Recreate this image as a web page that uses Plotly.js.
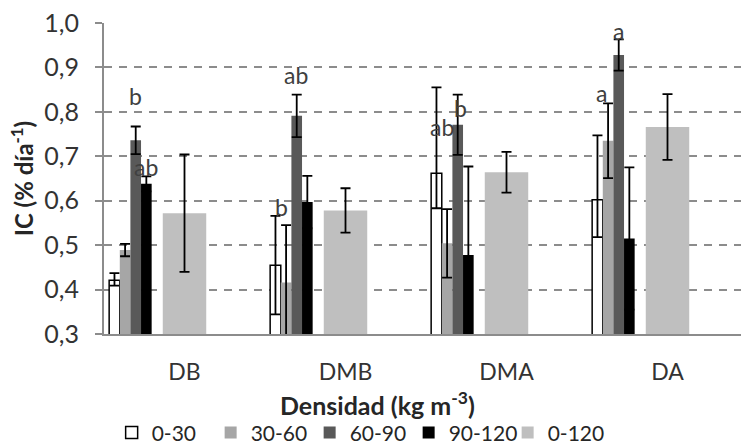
<!DOCTYPE html>
<html>
<head>
<meta charset="utf-8">
<script src="https://cdn.plot.ly/plotly-3.0.1.min.js"></script>
<style>html,body{margin:0;padding:0;background:#fff;}#chart{width:741px;height:446px;}</style>
</head>
<body>
<div id="chart"></div>
<script>
// ---- data ----
const categories = ['DB', 'DMB', 'DMA', 'DA'];
const seriesNames = ['0-30', '30-60', '60-90', '90-120', '0-120'];

const ic_0_30        = [0.421, 0.455, 0.662, 0.602];
const err_0_30_plus  = [0.016, 0.111, 0.193, 0.145];
const err_0_30_minus = [0.012, 0.111, 0.079, 0.084];

const ic_30_60  = [0.489, 0.416, 0.504, 0.735];
const err_30_60 = [0.014, 0.129, 0.077, 0.084];

const ic_60_90  = [0.736, 0.791, 0.771, 0.928];
const err_60_90 = [0.031, 0.048, 0.068, 0.035];

const ic_90_120  = [0.638, 0.597, 0.478, 0.515];
const err_90_120 = [0.017, 0.059, 0.199, 0.160];

const ic_0_120  = [0.572, 0.578, 0.664, 0.766];
const err_0_120 = [0.132, 0.050, 0.046, 0.074];

const letterText = ['ab', 'b', 'b', 'ab', 'ab', 'b', 'a', 'a'];
const letterCat  = ['DB', 'DB', 'DMB', 'DMB', 'DMA', 'DMA', 'DA', 'DA'];

// ---- styling ----
const FONT = 'Lato, "Open Sans", "DejaVu Sans", sans-serif';
const GRID = '#8c8c8c';
const TXT = '#333333';

function errBar(plus, minus) {
  const e = {type: 'data', array: plus, visible: true, color: '#000', thickness: 1.8, width: 5};
  if (minus) { e.symmetric = false; e.arrayminus = minus; }
  return e;
}

const barW = 0.066;
const traces = [
  {name: seriesNames[0], y: ic_0_30, offset: -0.468, marker: {color: '#ffffff', line: {color: '#000', width: 1.5}}, error_y: errBar(err_0_30_plus, err_0_30_minus)},
  {name: seriesNames[1], y: ic_30_60, offset: -0.402, marker: {color: '#a6a6a6', line: {width: 0}}, error_y: errBar(err_30_60)},
  {name: seriesNames[2], y: ic_60_90, offset: -0.336, marker: {color: '#595959', line: {width: 0}}, error_y: errBar(err_60_90)},
  {name: seriesNames[3], y: ic_90_120, offset: -0.270, marker: {color: '#000000', line: {width: 0}}, error_y: errBar(err_90_120)},
  {name: seriesNames[4], y: ic_0_120, offset: -0.135, width: 0.27, marker: {color: '#bfbfbf', line: {width: 0}}, error_y: errBar(err_0_120)}
].map(t => Object.assign({type: 'bar', x: categories, width: barW, hoverinfo: 'skip'}, t));

// letter label placement (offsets from category centre, and heights)
const letterDx = [-0.239, -0.307, -0.400, -0.307, -0.400, -0.285, -0.407, -0.307];
const letterY  = [0.676, 0.836, 0.586, 0.883, 0.766, 0.809, 0.842, 0.982];
const catIndex = c => categories.indexOf(c);
const annotations = letterText.map((t, i) => ({
  text: t, xref: 'x', yref: 'y', x: catIndex(letterCat[i]) + letterDx[i], y: letterY[i],
  showarrow: false, font: {family: FONT, size: 23, color: '#404040'}, xanchor: 'center', yanchor: 'middle'
}));
annotations.push({
  text: '<b>Densidad (kg m<sup>-3</sup>)</b>', xref: 'paper', yref: 'paper', x: 0.430, y: -0.222,
  xanchor: 'center', yanchor: 'middle', showarrow: false, font: {family: FONT, size: 25, color: '#262626'}
});

const layout = {
  width: 741, height: 446,
  margin: {l: 104, r: 0, t: 23, b: 112, pad: 0, autoexpand: false},
  paper_bgcolor: '#fff', plot_bgcolor: '#fff',
  separators: ',.',
  font: {family: FONT, size: 22, color: TXT},
  barmode: 'overlay',
  showlegend: true,
  legend: {orientation: 'h', x: 0.012, y: -0.318, xanchor: 'left', yanchor: 'middle',
           entrywidth: 54, entrywidthmode: 'pixels',
           font: {family: FONT, size: 21, color: '#262626'}, traceorder: 'normal', bgcolor: 'rgba(0,0,0,0)'},
  xaxis: {
    type: 'category', categoryorder: 'array', categoryarray: categories,
    range: [-0.5, 3.4565], showline: true, linecolor: GRID, linewidth: 2,
    ticks: '', showgrid: false, zeroline: false, ticklabelstandoff: 16,
    tickfont: {family: FONT, size: 23, color: TXT}, fixedrange: true, automargin: false
  },
  xaxis2: {
    overlaying: 'x', anchor: 'y', side: 'bottom', range: [0, 2.963], tick0: 0, dtick: 1,
    ticks: 'outside', ticklen: 7, tickwidth: 2, tickcolor: GRID, showticklabels: false,
    showgrid: false, showline: false, zeroline: false
  },
  yaxis: {
    range: [0.3, 1.0], tick0: 0.3, dtick: 0.1, tickformat: '.1f',
    showgrid: true, gridcolor: GRID, gridwidth: 2, griddash: '8px,7px',
    showline: true, linecolor: GRID, linewidth: 2, zeroline: false,
    ticks: 'outside', ticklen: 7, tickwidth: 2, tickcolor: GRID, ticklabelstandoff: 11,
    tickfont: {family: FONT, size: 25, color: TXT}, automargin: false,
    title: {text: '<b>IC (% día<sup>-1</sup>)</b>', font: {family: FONT, size: 24, color: '#262626'}, standoff: 4}
  },
  annotations: annotations
};

Plotly.newPlot('chart', traces, layout, {staticPlot: true, displayModeBar: false});
</script>
</body>
</html>
